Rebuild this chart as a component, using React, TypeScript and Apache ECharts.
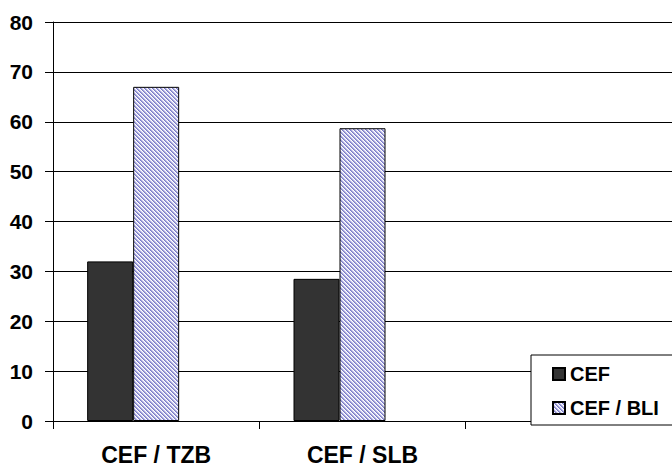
import React, { useEffect, useRef } from "react";
import * as echarts from "echarts";

// Chart data
const categories = ["CEF / TZB", "CEF / SLB", ""];
const seriesNames = ["CEF", "CEF / BLI"];
const cefValues = [32, 28.5];
const bliValues = [67, 58.7];
const yTicks = [0, 10, 20, 30, 40, 50, 60, 70, 80];

const FONT = "'Liberation Sans', Arial, sans-serif";

// Small tiled canvas giving the diagonal lavender hatch fill
function makeHatch(): HTMLCanvasElement {
  const c = document.createElement("canvas");
  c.width = 4;
  c.height = 4;
  const ctx = c.getContext("2d")!;
  const shades = ["#7c7cc8", "#a4a4da", "#dcdcf2", "#ffffff"];
  for (let y = 0; y < 4; y++) {
    for (let x = 0; x < 4; x++) {
      const d = (((x - y) % 4) + 4) % 4;
      ctx.fillStyle = shades[d];
      ctx.fillRect(x, y, 1, 1);
    }
  }
  return c;
}

export default function App() {
  const ref = useRef<HTMLDivElement>(null);

  useEffect(() => {
    if (!ref.current) return;
    const chart = echarts.init(ref.current, null, { renderer: "svg" });
    const hatch = makeHatch();

    chart.setOption({
      animation: false,
      backgroundColor: "#ffffff",
      grid: { left: 53, top: 22, width: 624, height: 399, containLabel: false },
      legend: {
        orient: "vertical",
        left: 531,
        top: 355,
        data: seriesNames,
        padding: [9, 40, 7, 21],
        itemGap: 14,
        itemWidth: 12,
        itemHeight: 12,
        icon: "rect",
        backgroundColor: "#ffffff",
        borderColor: "#000000",
        borderWidth: 1,
        borderRadius: 0,
        selectedMode: false,
        textStyle: {
          fontFamily: FONT,
          fontSize: 20,
          fontWeight: "bold",
          color: "#000000",
        },
      },
      xAxis: {
        type: "category",
        data: categories,
        boundaryGap: true,
        axisLine: { show: true, lineStyle: { color: "#000000", width: 1 } },
        axisTick: { show: true, length: 8, lineStyle: { color: "#000000" } },
        axisLabel: {
          margin: 22,
          fontFamily: FONT,
          fontSize: 23,
          fontWeight: "bold",
          color: "#000000",
        },
        splitLine: { show: false },
      },
      yAxis: {
        type: "value",
        min: yTicks[0],
        max: yTicks[yTicks.length - 1],
        interval: 10,
        axisLine: { show: true, lineStyle: { color: "#000000", width: 1 } },
        axisTick: { show: true, length: 8, lineStyle: { color: "#000000" } },
        axisLabel: {
          margin: 20,
          fontFamily: FONT,
          fontSize: 21,
          fontWeight: "bold",
          color: "#000000",
        },
        splitLine: { show: true, lineStyle: { color: "#000000", width: 1 } },
      },
      series: [
        {
          name: seriesNames[0],
          type: "bar",
          data: cefValues,
          barWidth: 46,
          barGap: "0%",
          itemStyle: { color: "#333333", borderColor: "#000000", borderWidth: 1 },
        },
        {
          name: seriesNames[1],
          type: "bar",
          data: bliValues,
          barWidth: 46,
          barGap: "0%",
          itemStyle: {
            color: { image: hatch, repeat: "repeat" },
            borderColor: "#000000",
            borderWidth: 1,
          },
        },
        {
          name: "",
          type: "bar",
          data: [],
          barWidth: 46,
          barGap: "0%",
        },
      ],
    });

    return () => chart.dispose();
  }, []);

  return (
    <div
      ref={ref}
      style={{ position: "absolute", left: 0, top: 0, width: 672, height: 469 }}
    />
  );
}
